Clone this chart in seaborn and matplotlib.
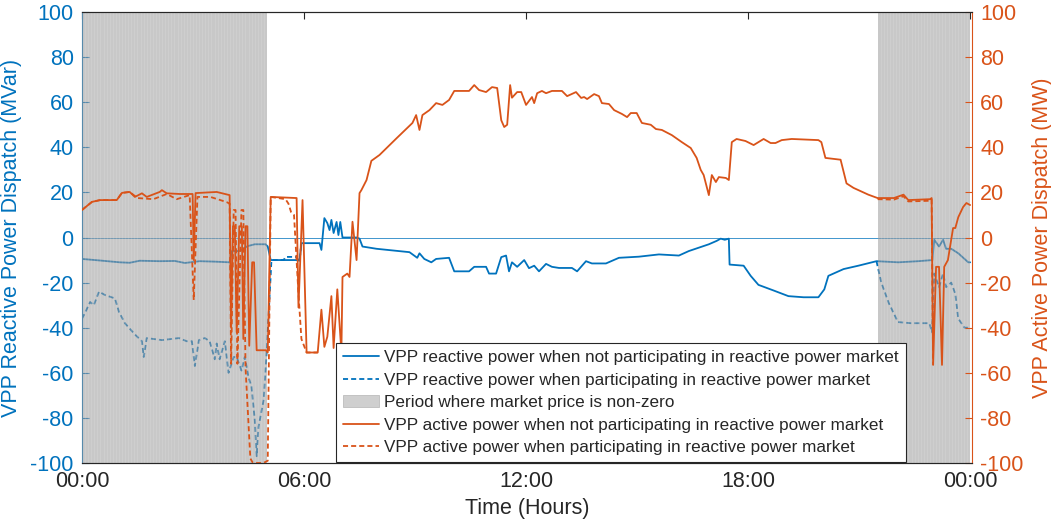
import numpy as np
import pandas as pd
import matplotlib
matplotlib.use("Agg")
import matplotlib.pyplot as plt
from matplotlib.lines import Line2D
from matplotlib.patches import Patch
import seaborn as sns

# ---------------- data (hours, MVar / MW) ----------------
q_base_t = [0.00, 0.49, 1.02, 1.29, 1.56, 2.10, 2.51, 2.78, 3.18, 3.59, 3.99, 4.05, 4.26, 4.40,
            4.48, 4.67, 4.96, 5.02, 5.10, 5.80, 5.88, 5.93, 6.42, 6.47, 6.55, 6.63, 6.69, 6.74,
            6.80, 6.88, 6.93, 6.98, 7.04, 7.42, 7.50, 7.58, 7.96, 8.85, 9.06, 9.12, 9.25, 9.44,
            9.57, 9.92, 10.06, 10.46, 10.60, 10.92, 11.00, 11.19, 11.33, 11.46, 11.54, 11.62,
            11.76, 11.95, 12.08, 12.22, 12.35, 12.54, 12.70, 12.89, 13.24, 13.38, 13.62, 13.78,
            14.16, 14.51, 15.05, 15.59, 16.13, 16.40, 16.67, 16.94, 17.15, 17.26, 17.37, 17.48,
            17.50, 17.88, 18.07, 18.28, 18.69, 19.09, 19.50, 19.90, 20.06, 20.17, 20.58, 20.98,
            21.47, 22.06, 22.60, 22.98, 23.03, 23.16, 23.27, 23.35, 23.49, 23.68, 23.95, 24.00]
q_base = [-9.5, -10.2, -11.0, -11.2, -10.3, -10.5, -10.4, -11.3, -10.5, -10.7, -11.0, -6.0, -6.0, -4.5,
          -3.8, -3.0, -3.0, -4.0, -10.0, -10.0, -10.3, -2.5, -2.5, -5.5, 8.6, 6.4, 3.3, 7.8,
          2.0, 6.9, 1.1, 6.9, 0.0, 0.0, -0.5, -4.0, -5.0, -6.5, -9.0, -7.0, -9.5, -11.0,
          -9.5, -9.0, -15.0, -15.0, -13.0, -13.0, -16.0, -16.0, -8.7, -8.0, -15.0, -11.0,
          -13.0, -10.0, -13.6, -12.5, -15.0, -11.7, -13.0, -13.5, -13.5, -15.0, -10.5, -11.5,
          -11.5, -9.0, -8.5, -7.5, -8.0, -6.0, -4.5, -3.0, -1.5, -0.5, -1.0, -0.5,
          -12.0, -12.5, -17.0, -21.0, -23.5, -26.0, -26.5, -26.5, -23.0, -17.0, -14.0, -12.5,
          -10.5, -11.0, -10.5, -10.0, -1.0, -4.0, -1.0, -5.0, -5.0, -7.0, -11.0, -11.0]

# reactive power with market participation (only where it departs from the base case)
q_mkt_am_t = [0.00, 0.08, 0.22, 0.32, 0.46, 0.62, 0.89, 1.00, 1.16, 1.43, 1.62, 1.67, 1.75, 2.16,
              2.62, 2.83, 2.97, 3.05, 3.16, 3.32, 3.45, 3.59, 3.64, 3.72, 3.86, 3.96, 4.10, 4.18,
              4.31, 4.40, 4.50, 4.58, 4.67, 4.72, 4.77, 4.91, 4.99, 5.07, 5.12, 5.45, 5.50, 5.78,
              5.85, 5.88, 5.93]
q_mkt_am = [-36.0, -33.5, -28.6, -30.0, -24.0, -25.5, -27.0, -33.0, -38.0, -43.0, -46.0, -53.0, -44.6, -45.5,
            -44.6, -46.0, -46.0, -57.0, -45.5, -44.6, -46.0, -54.0, -47.0, -54.0, -46.0, -60.0, -53.0, -53.0,
            -59.0, -53.0, -62.0, -66.0, -81.0, -97.0, -84.0, -72.0, -51.0, -26.0, -10.0, -10.0, -8.6, -8.6,
            -10.0, -10.3, -2.5]
q_mkt_pm_t = [21.47, 21.60, 21.80, 22.05, 22.40, 22.90, 22.97, 23.03, 23.16, 23.27, 23.35, 23.49, 23.60,
              23.68, 23.85, 24.00]
q_mkt_pm = [-10.5, -20.0, -29.0, -37.5, -38.0, -38.0, -42.0, -16.0, -22.0, -16.0, -22.0, -20.0, -25.0,
            -36.0, -40.0, -40.0]

p_base_t = [0.00, 0.27, 0.49, 0.94, 1.08, 1.29, 1.43, 1.62, 1.75, 2.10, 2.16, 2.29, 2.64, 2.99, 3.02,
            3.07, 3.64, 3.99, 4.03, 4.08, 4.13, 4.18, 4.25, 4.32, 4.36, 4.42, 4.47, 4.52, 4.60, 4.65,
            4.72, 4.97, 5.02, 5.10, 5.80, 5.85, 5.96, 6.07, 6.37, 6.47, 6.55, 6.63, 6.74, 6.80, 6.90,
            7.01, 7.04, 7.17, 7.23, 7.31, 7.42, 7.50, 7.55, 7.69, 7.82, 8.04, 8.50, 8.93, 9.03, 9.12,
            9.20, 9.39, 9.57, 9.74, 9.92, 10.06, 10.46, 10.60, 10.73, 10.92, 11.08, 11.22, 11.33,
            11.41, 11.49, 11.57, 11.62, 11.76, 11.87, 12.00, 12.16, 12.22, 12.30, 12.43, 12.54,
            12.70, 12.97, 13.11, 13.35, 13.49, 13.57, 13.65, 13.84, 13.97, 14.05, 14.24, 14.38,
            14.59, 14.73, 14.83, 14.99, 15.13, 15.37, 15.51, 15.67, 15.94, 16.21, 16.45, 16.61,
            16.72, 16.80, 16.94, 17.02, 17.13, 17.21, 17.40, 17.48, 17.56, 17.69, 17.93, 18.15,
            18.42, 18.61, 18.74, 18.91, 19.18, 19.90, 19.98, 20.09, 20.50, 20.66, 20.85, 21.25,
            21.50, 21.94, 22.20, 22.33, 22.92, 22.96, 23.00, 23.08, 23.16, 23.24, 23.30, 23.40,
            23.54, 23.60, 23.68, 23.81, 23.90, 24.00]
p_base = [12.2, 15.8, 16.6, 16.6, 19.8, 20.2, 18.0, 19.6, 18.0, 20.2, 21.0, 19.6, 19.3, 19.3, -10.0,
          19.7, 20.2, 18.8, -40.0, 5.0, 5.0, -42.0, 5.0, 5.0, -45.0, 5.0, 5.0, -48.0, -11.0, -11.0,
          -50.0, -50.0, -51.0, 18.0, 17.5, -31.0, 16.6, -51.0, -51.0, -32.0, -48.5, -44.0, -26.0, -49.0, -23.0,
          -51.0, -17.5, -16.0, -17.5, 7.0, -10.0, 19.7, 21.0, 25.5, 34.0, 36.6, 44.0, 50.8, 54.3, 47.7,
          54.3, 56.5, 59.6, 58.8, 61.0, 65.0, 65.0, 67.6, 65.4, 64.5, 66.7, 66.3, 52.0,
          49.0, 50.0, 67.6, 62.0, 64.5, 64.5, 58.8, 62.3, 59.6, 64.0, 65.0, 64.0,
          65.0, 65.0, 62.7, 64.5, 61.9, 62.3, 61.4, 63.6, 62.7, 59.6, 59.2, 56.5,
          54.8, 53.4, 55.2, 55.2, 50.8, 50.0, 48.1, 47.7, 45.4, 42.3, 39.7, 35.3,
          30.0, 27.7, 18.8, 27.7, 24.6, 26.8, 26.4, 25.5, 42.3, 43.7, 42.8, 41.0,
          43.7, 41.9, 41.9, 43.2, 43.7, 43.2, 42.3, 35.3, 34.5, 24.0, 22.0, 19.0,
          17.5, 17.5, 19.0, 16.6, 17.0, 17.5, -56.5, -13.0, -13.0, -56.5, -13.0, -10.0,
          4.2, 4.2, 9.0, 13.5, 15.3, 14.4]

# active power with market participation (only where it departs from the base case)
p_mkt_am_t = [0.00, 0.27, 0.49, 0.94, 1.08, 1.29, 1.50, 1.93, 2.29, 2.56, 2.91, 3.02, 3.12, 3.47,
              3.91, 3.99, 4.03, 4.10, 4.15, 4.20, 4.31, 4.36, 4.42, 4.55, 4.62, 4.90, 5.02, 5.10,
              5.50, 5.58, 5.65, 5.73, 5.85, 5.93, 6.07, 6.37]
p_mkt_am = [12.2, 15.8, 16.6, 16.6, 19.8, 20.2, 17.5, 17.0, 19.3, 17.0, 18.8, -27.7, 18.0, 18.0,
            15.7, 15.0, -56.0, 12.2, 12.2, -56.0, 12.2, 12.2, -58.0, -98.0, -100.0, -100.0, -99.0, 18.0,
            17.0, 15.0, 11.3, 10.0, -25.0, -45.0, -51.0, -51.0]
p_mkt_pm_t = [21.50, 21.94, 22.20, 22.33, 22.92, 22.96, 23.00]
p_mkt_pm = [17.0, 16.8, 18.3, 16.0, 16.3, 16.8, -56.5]

# periods (hours) where the reactive power market price is non-zero
price_periods = [(0.0, 5.0), (21.5, 24.0)]

hour_ticks = [0, 6, 12, 18, 24]
hour_labels = ["00:00", "06:00", "12:00", "18:00", "00:00"]
y_ticks = list(range(-100, 101, 20))

# ---------------- styling ----------------
BLUE = "#0072BD"
ORANGE = "#D95319"
DARK = "#262626"

sns.set_style("white")
plt.rcParams["font.family"] = ["Liberation Sans", "DejaVu Sans"]
plt.rcParams["axes.unicode_minus"] = False

fig = plt.figure(figsize=(10.51, 5.25), dpi=100)
ax = fig.add_axes([0.078, 0.1181, 0.8468, 0.859])
ax2 = ax.twinx()
ax2.set_position(ax.get_position())

lw = 1.3
dash = (2.8, 1.7)


def frame(t, v, seg=0):
    return pd.DataFrame({"t": t, "v": v, "seg": seg})


# reactive power (left axis)
ax.axhline(0, color=BLUE, lw=0.7, alpha=0.75, zorder=1)
sns.lineplot(data=frame(q_base_t, q_base), x="t", y="v", ax=ax, color=BLUE, lw=lw,
             estimator=None, sort=False, zorder=2)
q_mkt_df = pd.concat([frame(q_mkt_am_t, q_mkt_am, 0), frame(q_mkt_pm_t, q_mkt_pm, 1)])
sns.lineplot(data=q_mkt_df, x="t", y="v", units="seg", ax=ax, color=BLUE, lw=lw,
             estimator=None, sort=False, zorder=2, linestyle=(0, dash))

# shaded market periods, striped at 5-minute resolution
step = 1 / 12
for a, b in price_periods:
    ax.axvspan(a, b, color="#9d9d9d", alpha=0.56, linewidth=0, zorder=3)
    ax.vlines(np.arange(a + step, b - 1e-9, step), -100, 100, color="white",
              alpha=0.13, lw=0.6, zorder=3)

# active power (right axis)
sns.lineplot(data=frame(p_base_t, p_base), x="t", y="v", ax=ax2, color=ORANGE, lw=lw,
             estimator=None, sort=False, zorder=2)
p_mkt_df = pd.concat([frame(p_mkt_am_t, p_mkt_am, 0), frame(p_mkt_pm_t, p_mkt_pm, 1)])
sns.lineplot(data=p_mkt_df, x="t", y="v", units="seg", ax=ax2, color=ORANGE, lw=lw,
             estimator=None, sort=False, zorder=2, linestyle=(0, dash))

# axes
fs = 15.5
for a_ in (ax, ax2):
    a_.set_xlim(0, 24.05)
    a_.set_ylim(-100, 100)
    a_.set_yticks(y_ticks)
    a_.set_yticklabels([str(v) for v in y_ticks])
    a_.spines["top"].set_color(DARK)
    a_.spines["bottom"].set_color(DARK)
    for s in a_.spines.values():
        s.set_linewidth(0.8)
ax.spines["left"].set_color(BLUE)
ax.spines["right"].set_visible(False)
ax2.spines["right"].set_color(ORANGE)
ax2.spines["left"].set_visible(False)

ax.set_xticks(hour_ticks)
ax.set_xticklabels(hour_labels)
ax.tick_params(axis="x", direction="in", length=5, colors=DARK, labelsize=fs, top=True, pad=6)
ax.tick_params(axis="y", direction="in", length=5, color=BLUE, labelcolor=BLUE, labelsize=fs,
               right=False, pad=6)
ax2.tick_params(axis="y", direction="in", length=5, color=ORANGE, labelcolor=ORANGE, labelsize=fs,
                left=False, pad=6)
ax2.tick_params(axis="x", top=False, bottom=False, labelbottom=False)

ax.set_xlabel("Time (Hours)", fontsize=fs, color=DARK, labelpad=4)
ax.set_ylabel("VPP Reactive Power Dispatch (MVar)", fontsize=fs, color=BLUE, labelpad=6)
ax2.set_ylabel("VPP Active Power Dispatch (MW)", fontsize=fs, color=ORANGE, labelpad=6)

handles = [
    Line2D([], [], color=BLUE, lw=lw),
    Line2D([], [], color=BLUE, lw=lw, linestyle=(0, dash)),
    Patch(facecolor="#cfcfcf", edgecolor="#bdbdbd", linewidth=0.6),
    Line2D([], [], color=ORANGE, lw=lw),
    Line2D([], [], color=ORANGE, lw=lw, linestyle=(0, dash)),
]
labels = [
    "VPP reactive power when not participating in reactive power market",
    "VPP reactive power when participating in reactive power market",
    "Period where market price is non-zero",
    "VPP active power when not participating in reactive power market",
    "VPP active power when participating in reactive power market",
]
leg = ax2.legend(handles, labels, loc="upper left", bbox_to_anchor=(0.2854, 0.266),
                 borderaxespad=0, fontsize=12.3, frameon=True, fancybox=False,
                 framealpha=1, edgecolor=DARK, handlelength=2.1, handletextpad=0.3,
                 labelspacing=0.44, borderpad=0.42)
leg.get_frame().set_linewidth(0.8)

fig.savefig("out.png", dpi=100)
